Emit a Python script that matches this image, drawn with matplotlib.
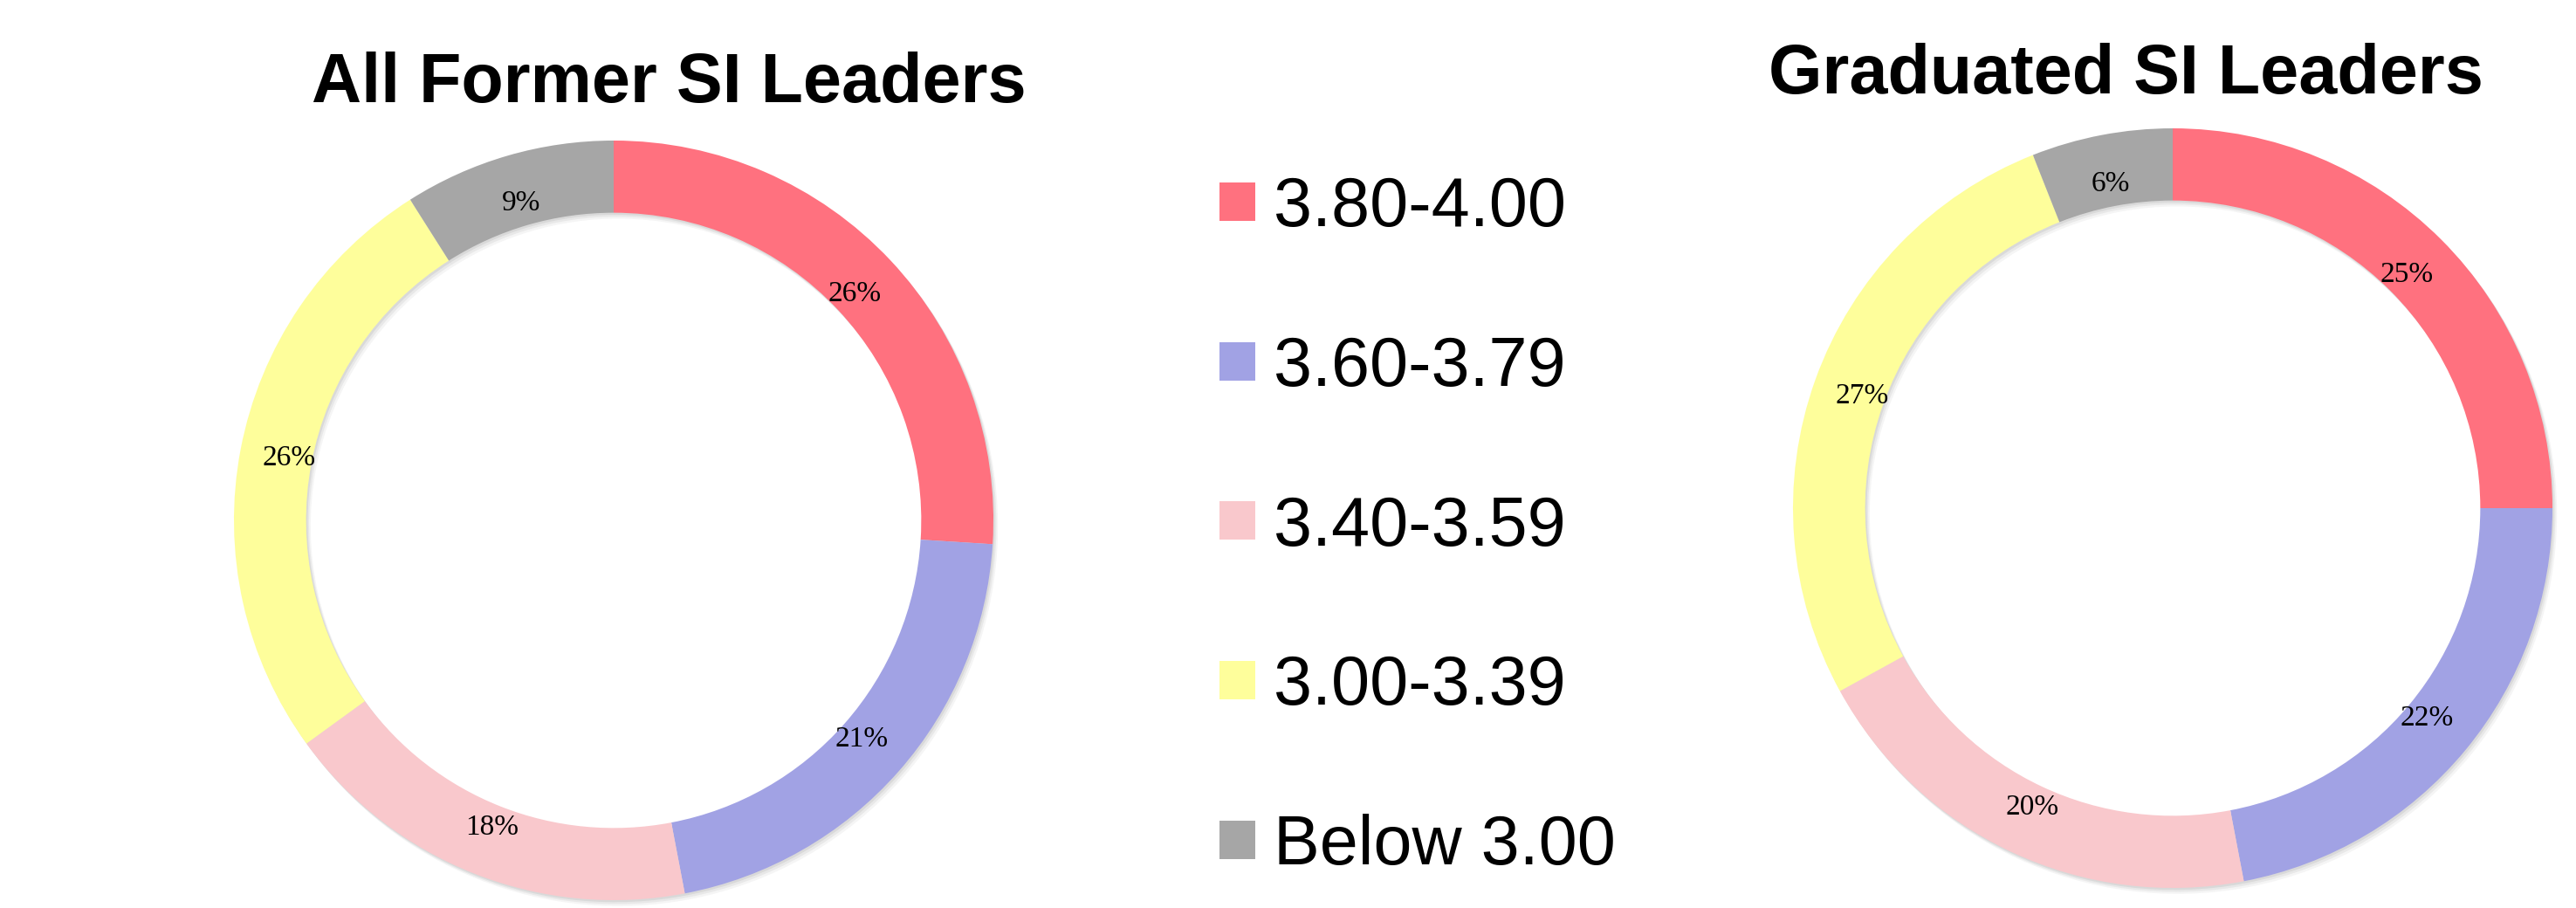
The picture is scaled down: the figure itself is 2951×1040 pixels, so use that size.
import numpy as np
import matplotlib
matplotlib.use('Agg')
import matplotlib.pyplot as plt

gpa_ranges = ['3.80-4.00', '3.60-3.79', '3.40-3.59', '3.00-3.39', 'Below 3.00']
colors = ['#FF717F', '#A1A2E4', '#F9C8CC', '#FEFE9B', '#A6A6A6']

all_former = [26, 21, 18, 26, 9]
graduated = [25, 22, 20, 27, 6]

W, H = 2951, 1040
fig = plt.figure(figsize=(W / 100, H / 100), dpi=100)
fig.patch.set_facecolor('white')

ring_w = 0.19


def donut(cx, cy, r, values, title, tx, ty):
    ax = fig.add_axes([(cx - r) / W, (H - cy - r) / H, 2 * r / W, 2 * r / H])
    # soft drop shadow under the ring
    for k, a in enumerate([0.06, 0.08, 0.10]):
        off = 0.004 * (3 - k)
        ax.pie(values, colors=['#555555'] * len(values), startangle=90, counterclock=False,
               radius=1, center=(off, -off * 1.3),
               wedgeprops=dict(width=ring_w, linewidth=0, alpha=a))
    wedges, texts = ax.pie(values, colors=colors, startangle=90, counterclock=False,
                           radius=1, wedgeprops=dict(width=ring_w, linewidth=0))
    total = sum(values)
    for w, v in zip(wedges, values):
        ang = np.deg2rad((w.theta1 + w.theta2) / 2)
        ax.text(0.87 * np.cos(ang), 0.87 * np.sin(ang), f'{round(100 * v / total)}%',
                ha='center', va='center', fontsize=24, family='Liberation Serif')
    ax.set_xlim(-1, 1)
    ax.set_ylim(-1, 1)
    ax.set_aspect('equal')
    ax.axis('off')
    fig.text(tx / W, 1 - ty / H, title, ha='center', va='center', fontsize=57,
             fontweight='bold', family='Liberation Sans')
    return wedges


wedges = donut(703, 596, 435, all_former, 'All Former SI Leaders', 766, 96)
donut(2489, 582, 435, graduated, 'Graduated SI Leaders', 2435, 87)

leg = fig.legend(wedges, gpa_ranges, loc='center left', bbox_to_anchor=(1357 / W, 1 - 604 / H),
                 frameon=False, prop={'family': 'Liberation Sans', 'size': 57},
                 handlelength=0.52, handleheight=0.48, handletextpad=0.27, labelspacing=1.36,
                 borderpad=0)

fig.savefig('out.png', dpi=100, facecolor='white')
